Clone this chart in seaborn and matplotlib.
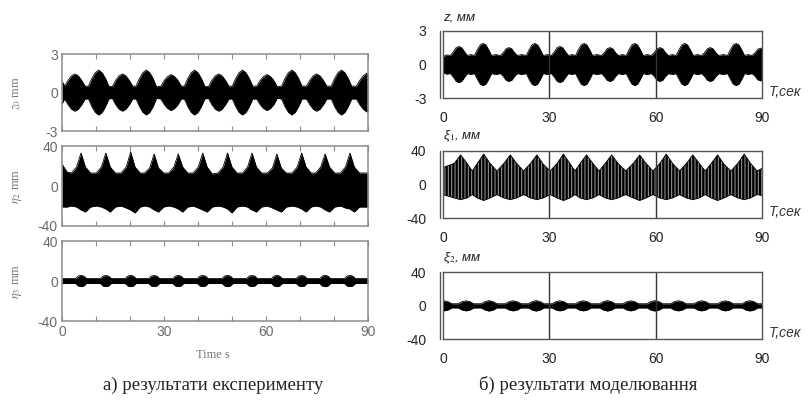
import matplotlib
matplotlib.use('Agg')
import matplotlib.pyplot as plt
import seaborn as sns

# ---- experiment (left column): envelope knots read off the picture ----
# z0, mm (symmetric envelope)
l1_t = [0, 0.8, 1.8, 2.8, 3.8, 4.8, 5.8, 6.8,
        7.8, 8.8, 9.8, 10.8, 11.8, 12.8, 13.8,
        14.8, 15.8, 16.8, 17.8, 18.8, 19.8, 20.8,
        21.8, 22.8, 23.8, 24.8, 25.8, 26.8, 27.8,
        29.1, 30.1, 31.1, 32.1, 33.1, 34.1, 35.1,
        36.0, 37.0, 38.0, 39.0, 40.0, 41.0, 42.0,
        43.1, 44.1, 45.1, 46.1, 47.1, 48.1, 49.1,
        50.1, 51.1, 52.1, 53.1, 54.1, 55.1, 56.1,
        57.3, 58.3, 59.3, 60.3, 61.3, 62.3, 63.3,
        64.6, 65.6, 66.6, 67.6, 68.6, 69.6, 70.6,
        71.9, 72.9, 73.9, 74.9, 75.9, 76.9, 77.9,
        79.2, 80.2, 81.2, 82.2, 83.2, 84.2, 85.2,
        86.6, 87.6, 88.6, 89.6, 90]
l1_amp = [0.9, 0.5, 0.95, 1.3, 1.45, 1.3, 0.95, 0.5,
          0.5, 1.1, 1.55, 1.75, 1.55, 1.1, 0.5,
          0.45, 0.95, 1.3, 1.45, 1.3, 0.95, 0.5,
          0.5, 1.1, 1.55, 1.75, 1.55, 1.1, 0.45,
          0.5, 0.95, 1.25, 1.4, 1.25, 0.95, 0.5,
          0.5, 1.1, 1.55, 1.75, 1.55, 1.1, 0.5,
          0.45, 0.95, 1.3, 1.45, 1.3, 0.95, 0.5,
          0.5, 1.1, 1.55, 1.75, 1.55, 1.1, 0.5,
          0.5, 0.95, 1.25, 1.4, 1.25, 0.95, 0.45,
          0.5, 1.1, 1.55, 1.75, 1.55, 1.1, 0.5,
          0.5, 0.95, 1.3, 1.45, 1.3, 0.95, 0.5,
          0.5, 1.1, 1.55, 1.75, 1.55, 1.1, 0.5,
          0.5, 0.95, 1.3, 1.5, 1.5]

# eta2, mm (upper and lower envelope)
l2_t = [0, 1.5, 2.8, 4.3, 5.6, 6.9, 8.4, 10.1, 11.6, 12.9, 14.2, 15.7, 17.4, 18.9, 20.2, 21.5, 23.0,
        24.3, 25.8, 27.1, 28.4, 29.9, 31.4, 32.9, 34.2, 35.5, 37.0, 38.6, 40.1, 41.4, 42.7, 44.2,
        45.9, 47.4, 48.7, 50.0, 51.5, 53.1, 54.6, 55.9, 57.2, 58.7, 60.4, 61.9, 63.2, 64.5, 66.0,
        67.7, 69.2, 70.5, 71.8, 73.3, 74.6, 76.1, 77.4, 78.7, 80.2, 81.9, 83.4, 84.7, 86.0, 87.5, 90]
l2_hi = [22, 14, 13, 19, 33, 19, 13, 13, 19, 33, 19, 13, 13, 19, 34, 19, 13, 13, 18, 32, 18, 13,
         13, 19, 32, 19, 13, 13, 19, 33, 19, 12, 13, 19, 33, 19, 13, 13, 19, 33, 19, 13,
         13, 18, 32, 18, 13, 13, 19, 33, 19, 13, 13, 19, 32, 19, 13, 13, 19, 33, 19, 13, 13]
l2_lo = [-21, -21, -20, -21, -24, -26, -21, -20, -21, -23, -26, -21, -20, -22, -24, -27, -21,
         -20, -21, -24, -26, -21, -20, -21, -23, -26, -21, -20, -22, -24, -26, -21,
         -20, -21, -23, -27, -21, -20, -21, -24, -26, -21, -20, -22, -24, -26, -21,
         -20, -21, -23, -26, -21, -20, -21, -24, -26, -21, -20, -22, -23, -26, -21, -21]

# eta3, mm (symmetric envelope)
l3_t = [0, 4.0, 4.8, 5.6, 6.4, 7.2, 11.3, 12.1, 12.9, 13.7, 14.5, 18.6, 19.4, 20.2, 21.0, 21.8,
        25.5, 26.3, 27.1, 27.9, 28.7, 32.6, 33.4, 34.2, 35.0, 35.8, 39.8, 40.6, 41.4, 42.2, 43.0,
        47.1, 47.9, 48.7, 49.5, 50.3, 54.3, 55.1, 55.9, 56.7, 57.5, 61.6, 62.4, 63.2, 64.0, 64.8,
        68.9, 69.7, 70.5, 71.3, 72.1, 75.8, 76.6, 77.4, 78.2, 79.0, 83.1, 83.9, 84.7, 85.5, 86.3, 90]
l3_amp = [2.5, 2.5, 5.0, 5.6, 5.0, 2.5, 2.5, 5.0, 5.5, 5.0, 2.5, 2.5, 5.0, 5.6, 5.0, 2.5,
          2.5, 5.0, 5.5, 5.0, 2.5, 2.5, 5.0, 5.6, 5.0, 2.5, 2.5, 5.0, 5.5, 5.0, 2.5,
          2.5, 5.0, 5.6, 5.0, 2.5, 2.5, 5.0, 5.5, 5.0, 2.5, 2.5, 5.0, 5.6, 5.0, 2.5,
          2.5, 5.0, 5.5, 5.0, 2.5, 2.5, 5.0, 5.6, 5.0, 2.5, 2.5, 5.0, 5.5, 5.0, 2.5, 2.5]

# ---- modelling (right column) ----
# z, mm (symmetric envelope)
r1_t = [0, 1.0,
        2.1, 2.9, 3.7, 4.5, 5.3, 6.1, 6.9, 7.9,
        8.9, 9.7, 10.5, 11.3, 12.1, 12.9, 13.7, 14.95,
        16.2, 17.0, 17.8, 18.6, 19.4, 20.2, 21.0, 22.25,
        23.5, 24.3, 25.1, 25.9, 26.7, 27.5, 28.3, 29.45,
        30.6, 31.4, 32.2, 33.0, 33.8, 34.6, 35.4, 36.4,
        37.4, 38.2, 39.0, 39.8, 40.6, 41.4, 42.2, 43.45,
        44.7, 45.5, 46.3, 47.1, 47.9, 48.7, 49.5, 50.6,
        51.7, 52.5, 53.3, 54.1, 54.9, 55.7, 56.5, 57.65,
        58.8, 59.6, 60.4, 61.2, 62.0, 62.8, 63.6, 64.7,
        65.8, 66.6, 67.4, 68.2, 69.0, 69.8, 70.6, 71.8,
        73.0, 73.8, 74.6, 75.4, 76.2, 77.0, 77.8, 79.05,
        80.3, 81.1, 81.9, 82.7, 83.5, 84.3, 85.1, 86.15,
        87.2, 88.0, 88.8, 89.6, 90]
r1_amp = [0.7, 0.85,
          0.8, 1.12, 1.49, 1.6, 1.49, 1.12, 0.8, 0.88,
          0.8, 1.31, 1.74, 1.87, 1.74, 1.31, 0.8, 0.88,
          0.8, 1.05, 1.4, 1.5, 1.4, 1.05, 0.8, 0.88,
          0.8, 1.31, 1.74, 1.87, 1.74, 1.31, 0.8, 0.88,
          0.8, 1.12, 1.49, 1.6, 1.49, 1.12, 0.8, 0.88,
          0.8, 1.31, 1.74, 1.87, 1.74, 1.31, 0.8, 0.88,
          0.8, 1.05, 1.4, 1.5, 1.4, 1.05, 0.8, 0.88,
          0.8, 1.31, 1.74, 1.87, 1.74, 1.31, 0.8, 0.88,
          0.8, 1.05, 1.4, 1.5, 1.4, 1.05, 0.8, 0.88,
          0.8, 1.31, 1.74, 1.87, 1.74, 1.31, 0.8, 0.88,
          0.8, 1.05, 1.4, 1.5, 1.4, 1.05, 0.8, 0.88,
          0.8, 1.31, 1.74, 1.87, 1.74, 1.31, 0.8, 0.88,
          0.8, 1.02, 1.35, 1.45, 1.42]

# xi1, mm (upper and lower envelope)
r2_t = [0, 3.2, 5.0, 6.8, 8.25, 9.7, 11.5, 13.3, 15.25, 17.2, 19.0, 20.8, 22.75, 24.7, 26.5, 28.3,
        30.25, 32.2, 34.0, 35.8, 37.25, 38.7, 40.5, 42.3, 44.05, 45.8, 47.6, 49.4, 51.55, 53.7,
        55.5, 57.3, 59.25, 61.2, 63.0, 64.8, 66.75, 68.7, 70.5, 72.3, 74.0, 75.7, 77.5, 79.3,
        81.25, 83.2, 85.0, 86.8, 88.6, 90]
r2_hi = [20, 25, 35, 25, 16, 25, 36, 25, 16, 25, 35, 25, 16, 25, 35, 24, 16, 25, 36, 25, 16,
         25, 35, 25, 16, 25, 35, 25, 16, 25, 35, 25, 16, 25, 36, 25, 16, 25, 35, 25, 16,
         25, 35, 24, 16, 25, 36, 25, 16, 19]
r2_lo = [-12, -16, -18, -16, -12, -16, -19, -16, -12, -16, -18, -16, -12, -16, -18, -16, -12,
         -16, -19, -16, -12, -16, -18, -16, -12, -16, -18, -16, -12, -16, -19, -16, -12,
         -16, -18, -16, -12, -16, -18, -16, -12, -16, -19, -16, -12, -16, -18, -16, -12, -13]

# xi2, mm (symmetric envelope)
r3_t = [0, 0.3, 1.4, 2.5,
        4.3, 5.4, 6.5, 7.6, 8.7,
        10.8, 11.9, 13.0, 14.1, 15.2,
        17.6, 18.7, 19.8, 20.9, 22.0,
        24.1, 25.2, 26.3, 27.4, 28.5,
        30.8, 31.9, 33.0, 34.1, 35.2,
        37.4, 38.5, 39.6, 40.7, 41.8,
        44.2, 45.3, 46.4, 47.5, 48.6,
        50.8, 51.9, 53.0, 54.1, 55.2,
        57.6, 58.7, 59.8, 60.9, 62.0,
        64.2, 65.3, 66.4, 67.5, 68.6,
        70.8, 71.9, 73.0, 74.1, 75.2,
        77.5, 78.6, 79.7, 80.8, 81.9,
        84.4, 85.5, 86.6, 87.7, 88.8,
        90]
r3_amp = [5.8, 6.0, 5.0, 2.5,
          2.5, 5.0, 6.0, 5.0, 2.5,
          2.5, 5.1, 6.2, 5.1, 2.5,
          2.5, 5.0, 6.0, 5.0, 2.5,
          2.5, 5.1, 6.2, 5.1, 2.5,
          2.5, 5.0, 6.0, 5.0, 2.5,
          2.5, 5.0, 6.0, 5.0, 2.5,
          2.5, 5.1, 6.2, 5.1, 2.5,
          2.5, 5.0, 6.0, 5.0, 2.5,
          2.5, 5.1, 6.2, 5.1, 2.5,
          2.5, 5.0, 6.0, 5.0, 2.5,
          2.5, 5.0, 6.0, 5.0, 2.5,
          2.5, 5.0, 6.0, 5.0, 2.5,
          2.5, 5.1, 6.1, 5.1, 2.5,
          2.5]

left_labels = [r'$z_0$ mm', r'$\eta_2$ mm', r'$\eta_3$ mm']
right_labels = ['z, мм', r'ξ$_1$, мм', r'ξ$_2$, мм']
left_lims = [3, 40, 40]
right_lims = [3, 40, 40]

sns.set_theme(style='white')
plt.rcParams['font.family'] = ['Liberation Sans', 'DejaVu Sans']
plt.rcParams['mathtext.fontset'] = 'stix'
plt.rcParams['axes.unicode_minus'] = False
plt.rcParams['hatch.linewidth'] = 0.7

fig = plt.figure(figsize=(8.11, 4.04), dpi=100)

left_boxes = [[0.0764, 0.6757, 0.3773, 0.1906],
              [0.0764, 0.4406, 0.3773, 0.1980],
              [0.0764, 0.2054, 0.3773, 0.1980]]
right_boxes = [[0.5462, 0.7567, 0.3933, 0.1673],
               [0.5462, 0.4597, 0.3933, 0.1673],
               [0.5462, 0.1601, 0.3933, 0.1658]]

left_data = [(l1_t, l1_amp, [-a for a in l1_amp]),
             (l2_t, l2_hi, l2_lo),
             (l3_t, l3_amp, [-a for a in l3_amp])]
right_data = [(r1_t, r1_amp, [-a for a in r1_amp]),
              (r2_t, r2_hi, r2_lo),
              (r3_t, r3_amp, [-a for a in r3_amp])]


def draw_band(ax, t, hi, lo, hatch=None):
    if hatch:
        ax.fill_between(t, lo, hi, facecolor='black', edgecolor='#a0a0a0', hatch=hatch, lw=0)
    else:
        ax.fill_between(t, lo, hi, color='black', lw=0)
    sns.lineplot(x=t, y=hi, ax=ax, color='black', lw=0.6, estimator=None)
    sns.lineplot(x=t, y=lo, ax=ax, color='black', lw=0.6, estimator=None)


# left column
for i, box in enumerate(left_boxes):
    ax = fig.add_axes(box)
    t, hi, lo = left_data[i]
    draw_band(ax, t, hi, lo)
    lim = left_lims[i]
    ax.set_xlim(0, 90)
    ax.set_ylim(-lim, lim)
    ax.set_xticks([0, 30, 60, 90])
    ax.set_xticks([10, 20, 40, 50, 70, 80], minor=True)
    ax.set_yticks([-lim, 0, lim])
    ax.set_yticklabels([str(-lim), '0', str(lim)])
    ax.tick_params(axis='x', which='both', direction='in', top=True, bottom=True,
                   length=3.5, width=0.8, color='#8c8c8c', labelsize=10, labelcolor='#6a6a6a', pad=3)
    ax.tick_params(axis='y', length=0, labelsize=10, labelcolor='#6a6a6a', pad=3)
    if i < 2:
        ax.set_xticklabels([])
    for s in ax.spines.values():
        s.set_color('#8c8c8c')
        s.set_linewidth(1.1)
    ax.set_xlabel('')
    ax.set_ylabel('')
    fig.text(0.021, box[1] + box[3] / 2, left_labels[i], rotation=90, ha='center', va='center',
             fontsize=9, color='#777777', family='Liberation Serif')

fig.text(0.262, 1 - 355 / 404, 'Time s', ha='center', va='center', fontsize=9,
         color='#777777', family='Liberation Serif')

# right column
for i, box in enumerate(right_boxes):
    ax = fig.add_axes(box)
    t, hi, lo = right_data[i]
    draw_band(ax, t, hi, lo, hatch='|||||' if i == 1 else None)
    lim = right_lims[i]
    ax.axvline(30, color='#333333', lw=1)
    ax.axvline(60, color='#333333', lw=1)
    ax.set_xlim(0, 90)
    ax.set_ylim(-lim, lim)
    ax.set_xticks([0, 30, 60, 90])
    ax.set_yticks([-lim, 0, lim])
    ax.set_yticklabels([str(-lim), '0', str(lim)])
    ax.tick_params(axis='both', length=0, labelsize=10, labelcolor='#222222')
    ax.tick_params(axis='y', pad=12)
    ax.tick_params(axis='x', pad=9)
    for s in ax.spines.values():
        s.set_color('#555555')
        s.set_linewidth(1.0)
    # the double left border of the original
    ax.plot([-0.008, -0.008], [0, 1], transform=ax.transAxes, color='#555555', lw=1.0, clip_on=False)
    ax.set_xlabel('')
    ax.set_ylabel('')
    ax.text(0.0, 1.1, right_labels[i], transform=ax.transAxes, ha='left', va='bottom',
            fontsize=9.5, style='italic', color='#222222')
    ax.text(1.02, 0.1, 'T,сек', transform=ax.transAxes, ha='left', va='center',
            fontsize=10, style='italic', color='#333333')

fig.text(0.263, 1 - 385 / 404, 'а) результати експерименту', ha='center', va='center',
         fontsize=13.5, family='Liberation Serif', color='#222222')
fig.text(0.725, 1 - 385 / 404, 'б) результати моделювання', ha='center', va='center',
         fontsize=13.5, family='Liberation Serif', color='#222222')

fig.savefig('out.png', dpi=100)
